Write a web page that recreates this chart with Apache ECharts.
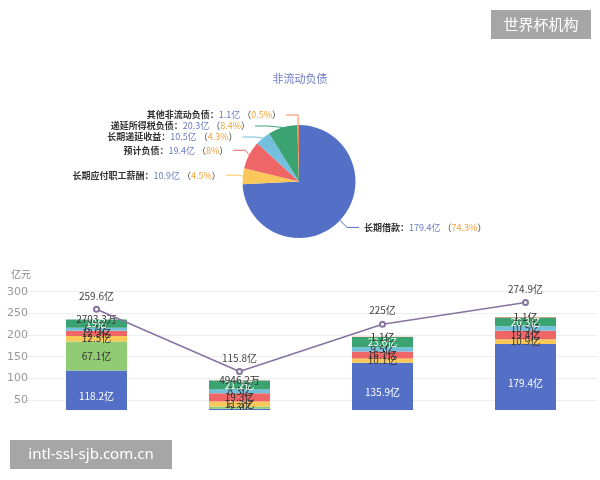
<!DOCTYPE html>
<html><head><meta charset="utf-8">
<script src="https://cdn.jsdelivr.net/npm/echarts@6/dist/echarts.min.js"></script>
<style>html,body{margin:0;padding:0;background:#fff}#c{width:600px;height:480px}</style>
</head><body><div id="c"></div>
<script>
// ---- data (亿元) ----
const categories = ['2019', '2020', '2021', '2022'];
const seriesNames = ['长期借款', '应付债券', '长期应付职工薪酬', '预计负债', '长期递延收益', '递延所得税负债', '其他非流动负债'];
const longLoan       = [118.2, 29.9, 135.9, 179.4];
const bonds          = [67.1, 5.3, null, null];
const staffPay       = [12.5, 11.3, 10.1, 10.9];
const provisions     = [12.3, 19.3, 16.1, 19.4];
const deferredIncome = [6.7, 8.3, 9.5, 10.5];
const deferredTax    = [19, 21.2, 23.6, 20.3];
const otherNC        = [0.27033, 0.49462, 1.1, 1.1];
const totalNC        = [259.6, 115.8, 225, 274.9];
const yTicks = [0, 50, 100, 150, 200, 250, 300];

const pieNames  = ['长期借款', '长期应付职工薪酬', '预计负债', '长期递延收益', '递延所得税负债', '其他非流动负债'];
const pieValues = [179.4, 10.9, 19.4, 10.5, 20.3, 1.1];

// ---- styles ----
const barColors = ['#5470c6', '#91cc75', '#fac858', '#ee6666', '#73c0de', '#3ba272', '#fc8452'];
const barLabelColors = ['#fff', '#333', '#333', '#333', '#333', '#fff', '#333'];
const pieColors = ['#5470c6', '#fac858', '#ee6666', '#73c0de', '#3ba272', '#fc8452'];
const FONT = '"Noto Sans CJK SC", "Noto Sans", sans-serif';

const barData = [longLoan, bonds, staffPay, provisions, deferredIncome, deferredTax, otherNC];

function fmtBar(p) {
  const v = p.value;
  if (v == null) return '';
  return v < 1 ? (v * 10000).toFixed(1) + '万' : v + '亿';
}

const barSeries = barData.map((d, i) => ({
  name: seriesNames[i],
  type: 'bar',
  stack: 'nc',
  barWidth: 61,
  itemStyle: { color: barColors[i] },
  label: { show: true, position: 'inside', formatter: fmtBar, color: barLabelColors[i], fontSize: 10, fontFamily: FONT },
  data: d
}));

const chart = echarts.init(document.getElementById('c'));
chart.setOption({
  animation: false,
  textStyle: { fontFamily: FONT },
  title: {
    text: '非流动负债', left: 'center', top: 68,
    textStyle: { fontSize: 11, fontWeight: 'normal', color: '#6b79c4', fontFamily: FONT }
  },
  grid: { left: 25, right: 3, top: 291.7, bottom: 58.3 },
  xAxis: {
    type: 'category', data: categories,
    axisLabel: { show: false }, axisTick: { show: false },
    axisLine: { lineStyle: { color: '#ccc' } }
  },
  yAxis: {
    type: 'value', min: yTicks[0], max: yTicks[yTicks.length - 1], interval: 50,
    name: '亿元', nameGap: 12, nameTextStyle: { color: '#888', fontSize: 10, align: 'right', padding: [0, -6, 0, 0] },
    axisLabel: { color: '#999', fontSize: 11, margin: -3, fontFamily: 'DejaVu Sans' },
    axisLine: { show: false }, axisTick: { show: false },
    splitLine: { lineStyle: { color: '#eee' } }
  },
  series: [
    ...barSeries,
    {
      name: '非流动负债合计', type: 'line', data: totalNC,
      symbol: 'emptyCircle', symbolSize: 5,
      lineStyle: { color: '#87739f', width: 1.5 },
      itemStyle: { color: '#87739f' },
      label: { show: true, position: 'top', formatter: '{c}亿', color: '#444', fontSize: 10 },
      z: 5
    },
    {
      name: '非流动负债', type: 'pie',
      center: [299, 181.5], radius: 56.5,
      percentPrecision: 1,
      label: {
        formatter: '{n|{b}：}{v|{c}亿}{p| （}{q|{d}%}{p|）}',
        rich: {
          n: { color: '#333', fontSize: 9, fontWeight: 'bold', fontFamily: FONT },
          v: { color: '#6b79c4', fontSize: 9, fontFamily: FONT },
          p: { color: '#333', fontSize: 9, fontFamily: FONT },
          q: { color: '#f0a33c', fontSize: 9, fontFamily: FONT }
        }
      },
      labelLine: { length: 10, length2: 12 },
      data: pieNames.map((n, i) => ({ name: n, value: pieValues[i], itemStyle: { color: pieColors[i] }, labelLine: { lineStyle: { color: pieColors[i] } } }))
    }
  ],
  graphic: [
    { type: 'rect', z: 100, shape: { x: 0, y: 410, width: 600, height: 70 }, style: { fill: '#fff' } },
    { type: 'rect', z: 101, shape: { x: 10, y: 440, width: 162, height: 29 }, style: { fill: '#a6a6a6' } },
    { type: 'text', z: 102, x: 91, y: 454.5, style: { text: 'intl-ssl-sjb.com.cn', fill: '#fff', font: '15px "Noto Sans", sans-serif', textAlign: 'center', textVerticalAlign: 'middle' } },
    { type: 'rect', z: 101, shape: { x: 491, y: 10, width: 100, height: 29 }, style: { fill: '#a6a6a6' } },
    { type: 'text', z: 102, x: 541, y: 24.5, style: { text: '世界杯机构', fill: '#fff', font: '15px "Noto Sans CJK SC", sans-serif', textAlign: 'center', textVerticalAlign: 'middle' } }
  ]
});
</script></body></html>
